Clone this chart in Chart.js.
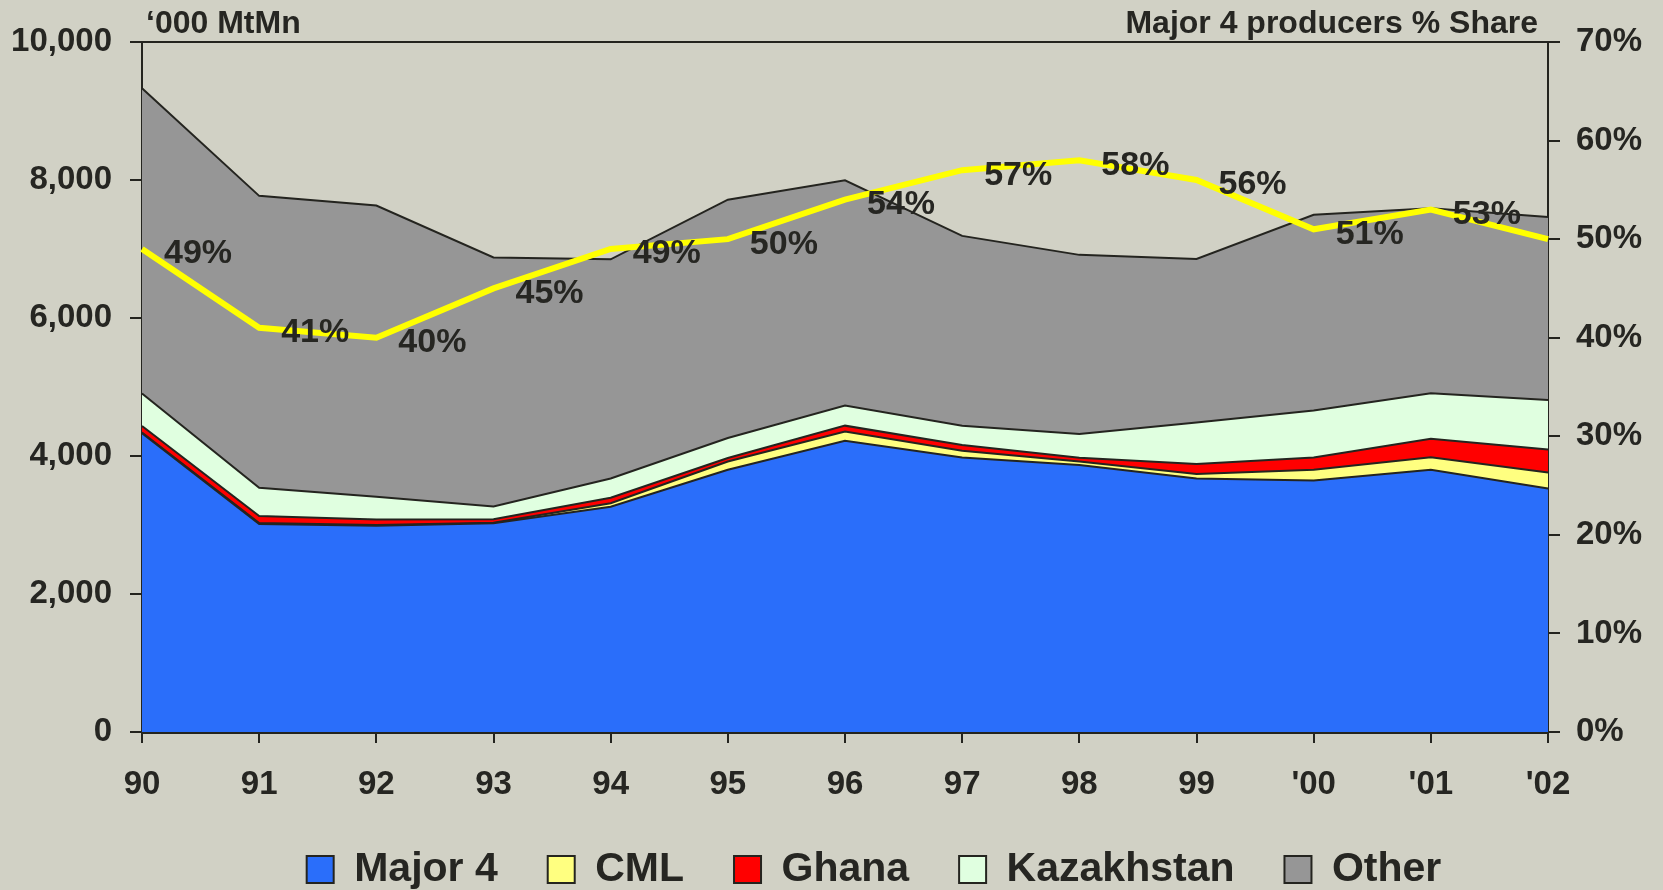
<!DOCTYPE html>
<html lang="en">
<head>
  <meta charset="UTF-8">
  <title>Manganese ore production</title>
  <script src="https://cdn.jsdelivr.net/npm/chart.js"></script>
  <style>
    body {
      margin: 0;
      background-color: #D1D1C5;
    }
    canvas {
      display: block;
    }
  </style>
</head>
<body>

  <canvas id="mnChart" width="1663" height="890"></canvas>

  <script>
    // data ('000 MtMn)
    const years = ['90', '91', '92', '93', '94', '95', '96', '97', '98', '99', "'00", "'01", "'02"];
    const major4 = [4330, 3015, 2990, 3025, 3265, 3800, 4220, 3980, 3870, 3675, 3645, 3800, 3530];
    const cml = [10, 15, 10, 8, 50, 120, 135, 95, 50, 65, 155, 180, 230];
    const ghana = [95, 100, 80, 50, 80, 50, 85, 85, 55, 145, 180, 270, 335];
    const kazakhstan = [470, 410, 330, 185, 280, 290, 290, 280, 345, 600, 680, 660, 715];
    const other = [4425, 4230, 4220, 3610, 3175, 3455, 3265, 2750, 2595, 2370, 2835, 2680, 2655];
    // Major 4 producers % share
    const share = [49, 41, 40, 45, 49, 50, 54, 57, 58, 56, 51, 53, 50];
    const shareLabels = ['49%', '41%', '40%', '45%', '49%', '50%', '54%', '57%', '58%', '56%', '51%', '53%', ''];

    const textColor = '#262622';
    const axisColor = '#24241f';
    Chart.defaults.font.family = "'Liberation Sans', Arial, sans-serif";
    Chart.defaults.font.weight = 'bold';
    Chart.defaults.color = textColor;

    function area(label, data, color, first) {
      return {
        label: label,
        data: data,
        backgroundColor: color,
        borderColor: axisColor,
        borderWidth: 2,
        fill: first ? 'origin' : '-1',
        pointRadius: 0,
        tension: 0
      };
    }

    // % labels next to the share line + the two headings
    const extras = {
      id: 'extras',
      afterDatasetsDraw(chart) {
        const ctx = chart.ctx;
        const meta = chart.getDatasetMeta(5);
        ctx.save();
        ctx.font = "bold 34px 'Liberation Sans', Arial, sans-serif";
        ctx.fillStyle = textColor;
        ctx.textAlign = 'left';
        ctx.textBaseline = 'middle';
        meta.data.forEach((pt, i) => {
          if (shareLabels[i]) ctx.fillText(shareLabels[i], pt.x + 22, pt.y + 5);
        });
        const area = chart.chartArea;
        ctx.font = "bold 32px 'Liberation Sans', Arial, sans-serif";
        ctx.textBaseline = 'alphabetic';
        ctx.fillText('\u2018000 MtMn', area.left + 4, 33);
        ctx.textAlign = 'right';
        ctx.fillText('Major 4 producers % Share', area.right - 10, 33);
        ctx.restore();
      }
    };

    const ctxMn = document.getElementById('mnChart').getContext('2d');
    const mnChart = new Chart(ctxMn, {
      type: 'line',
      data: {
        labels: years,
        datasets: [
          area('Major 4', major4, '#2A6EFA', true),
          area('CML', cml, '#FFFF80'),
          area('Ghana', ghana, '#FF0000'),
          area('Kazakhstan', kazakhstan, '#E0FFE0'),
          area('Other', other, '#969696'),
          {
            label: 'share',
            data: share,
            yAxisID: 'y1',
            borderColor: '#FFFF00',
            borderWidth: 6,
            fill: false,
            pointRadius: 0,
            tension: 0,
            order: -1
          }
        ]
      },
      options: {
        responsive: false,
        animation: false,
        layout: {
          // negative right padding pushes the centred legend to the right
          padding: { left: 0, top: 42, right: -85, bottom: -10 }
        },
        plugins: {
          tooltip: { enabled: false },
          legend: {
            position: 'bottom',
            labels: {
              boxWidth: 27,
              boxHeight: 27,
              padding: 50,
              color: textColor,
              font: { size: 41, weight: 'bold' },
              filter: item => item.datasetIndex < 5
            }
          }
        },
        scales: {
          x: {
            offset: false,
            grid: { drawOnChartArea: false, tickLength: 11, color: axisColor, lineWidth: 2 },
            border: { color: axisColor, width: 3 },
            ticks: { padding: 22, maxRotation: 0, autoSkip: false, font: { size: 33 } },
            afterFit: s => { s.height = 67; }
          },
          y: {
            stacked: true,
            min: 0,
            max: 10000,
            grid: {
              drawOnChartArea: true,
              color: c => (c.tick && c.tick.value === 10000) ? axisColor : 'rgba(0,0,0,0)',
              tickColor: axisColor,
              tickLength: 12,
              lineWidth: 2
            },
            border: { color: axisColor, width: 2 },
            ticks: {
              stepSize: 2000,
              padding: 18,
              font: { size: 33 },
              callback: v => v.toLocaleString('en-US')
            },
            afterFit: s => { s.width = 142; }
          },
          y1: {
            position: 'right',
            min: 0,
            max: 70,
            grid: { drawOnChartArea: false, tickLength: 12, color: axisColor, lineWidth: 2 },
            border: { color: axisColor, width: 2 },
            ticks: {
              stepSize: 10,
              padding: 16,
              font: { size: 33 },
              callback: v => v + '%'
            },
            afterFit: s => { s.width = 200; }
          }
        }
      },
      plugins: [extras]
    });
  </script>

</body>
</html>
